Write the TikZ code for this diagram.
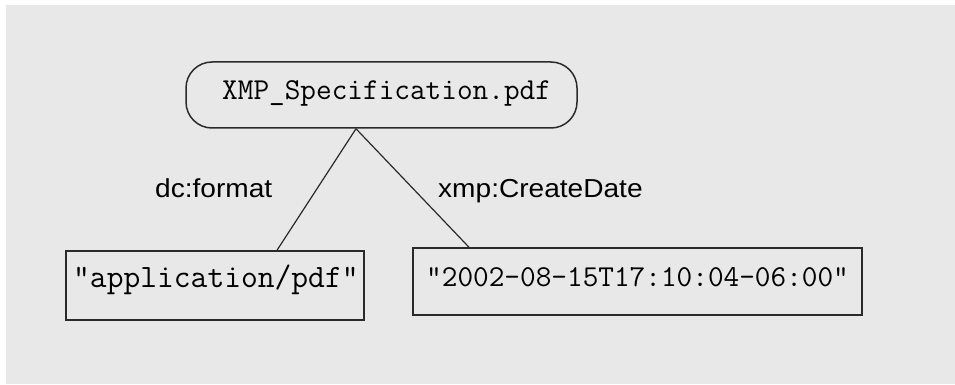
\documentclass[tikz,border=0pt]{standalone}
\usepackage{fontspec}
\setmainfont{Liberation Sans}
\newfontfamily\labelfont[FakeStretch=1.08]{Liberation Sans}
\definecolor{bggray}{HTML}{E8E8E8}
\definecolor{ink}{HTML}{2A2A2A}
\begin{document}
\begin{tikzpicture}[x=1pt,y=-1pt,
  resbox/.style={draw=ink, line width=1.5pt, rounded corners=26pt, inner sep=0pt},
  valbox/.style={draw=ink, line width=1.5pt, inner sep=0pt},
  monotext/.style={anchor=base west, inner sep=0pt, text=black, font=\ttfamily\fontsize{30.4}{34}\selectfont},
  proptext/.style={anchor=base west, inner sep=0pt, text=black, font=\labelfont\fontsize{26}{30}\selectfont},
  edge/.style={draw=ink, line width=1.2pt}]
\useasboundingbox (0,0) rectangle (955,385);
\fill[white] (0,0) rectangle (955,385);
\fill[bggray] (6,5) rectangle (955,384);
% resource node
\node[resbox, minimum width=391pt, minimum height=66pt] (res) at (381.5,95) {};
\node[monotext] (restext) at (222,100) {XMP\_Specification.pdf};
% value nodes
\node[valbox, minimum width=298pt, minimum height=69pt] (lbox) at (215,285.5) {};
\node[monotext, font=\ttfamily\fontsize{32.6}{36}\selectfont] (ltext) at (73,287) {"application/pdf"};
\node[valbox, minimum width=449pt, minimum height=67pt] (rbox) at (637.5,281.5) {};
\node[monotext] (rtext) at (426,286) {"2002-08-15T17:10:04-06:00"};
% connectors
\coordinate (apex) at ([xshift=-25.5pt]res.south);
\draw[edge] (apex) -- ([xshift=62pt]lbox.north);
\draw[edge] (apex) -- ([xshift=-168.5pt]rbox.north);
% property labels
\node[proptext] (lab1) at (155,197) {dc:format};
\node[proptext] (lab2) at (438,197) {xmp:CreateDate};
\end{tikzpicture}
\end{document}
